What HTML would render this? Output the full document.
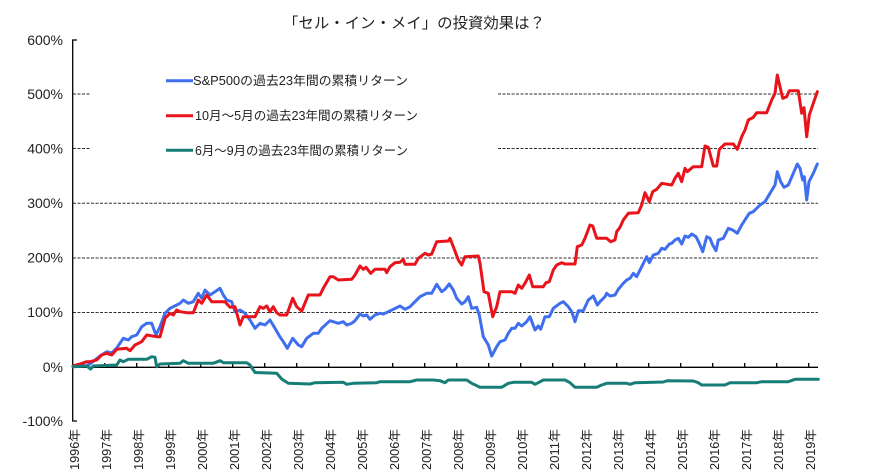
<!DOCTYPE html>
<html><head><meta charset="utf-8"><style>
html,body{margin:0;padding:0;background:#fff;}
svg{display:block;}
text{font-family:"Liberation Sans","Noto Sans CJK JP",sans-serif;fill:#222;}
</style></head><body>
<svg width="874" height="473" viewBox="0 0 874 473" xmlns="http://www.w3.org/2000/svg">
<rect width="874" height="473" fill="#fff"/>
<text x="283" y="28" font-size="15" textLength="262" lengthAdjust="spacingAndGlyphs">「セル・イン・メイ」の投資効果は？</text>

<!-- gridlines -->
<g stroke="#333" stroke-width="1" stroke-dasharray="3,1.5" fill="none">
<line x1="73" y1="94" x2="91" y2="94"/><line x1="498" y1="94" x2="818" y2="94"/>
<line x1="73" y1="148.5" x2="91" y2="148.5"/><line x1="498" y1="148.5" x2="818" y2="148.5"/>
<line x1="73" y1="203.3" x2="818" y2="203.3"/>
<line x1="73" y1="258" x2="818" y2="258"/>
<line x1="73" y1="312.5" x2="818" y2="312.5"/>
</g>

<!-- axes -->
<g stroke="#000" stroke-width="1.3" fill="none">
<polyline points="77,40 72.7,40 72.7,421 77,421"/>
<line x1="72.7" y1="367.3" x2="818" y2="367.3"/>
<path d="M104.7 363v4.3M136.7 363v4.3M168.7 363v4.3M200.7 363v4.3M232.7 363v4.3M264.7 363v4.3M296.7 363v4.3M328.7 363v4.3M360.7 363v4.3M392.7 363v4.3M424.7 363v4.3M456.7 363v4.3M488.7 363v4.3M520.7 363v4.3M552.7 363v4.3M584.7 363v4.3M616.7 363v4.3M648.7 363v4.3M680.7 363v4.3M712.7 363v4.3M744.7 363v4.3M776.7 363v4.3M808.7 363v4.3"/>
</g>

<!-- y labels -->
<g font-size="14" text-anchor="end">
<text x="63" y="45">600%</text>
<text x="63" y="99">500%</text>
<text x="63" y="153.5">400%</text>
<text x="63" y="208">300%</text>
<text x="63" y="262.5">200%</text>
<text x="63" y="317">100%</text>
<text x="63" y="372">0%</text>
<text x="63" y="426">-100%</text>
</g>

<!-- x labels -->
<g font-size="12.5" text-anchor="end">
<text transform="translate(79.2,429) rotate(-90)" textLength="41" lengthAdjust="spacingAndGlyphs">1996年</text>
<text transform="translate(111.2,429) rotate(-90)" textLength="41" lengthAdjust="spacingAndGlyphs">1997年</text>
<text transform="translate(143.2,429) rotate(-90)" textLength="41" lengthAdjust="spacingAndGlyphs">1998年</text>
<text transform="translate(175.2,429) rotate(-90)" textLength="41" lengthAdjust="spacingAndGlyphs">1999年</text>
<text transform="translate(207.2,429) rotate(-90)" textLength="41" lengthAdjust="spacingAndGlyphs">2000年</text>
<text transform="translate(239.2,429) rotate(-90)" textLength="41" lengthAdjust="spacingAndGlyphs">2001年</text>
<text transform="translate(271.2,429) rotate(-90)" textLength="41" lengthAdjust="spacingAndGlyphs">2002年</text>
<text transform="translate(303.2,429) rotate(-90)" textLength="41" lengthAdjust="spacingAndGlyphs">2003年</text>
<text transform="translate(335.2,429) rotate(-90)" textLength="41" lengthAdjust="spacingAndGlyphs">2004年</text>
<text transform="translate(367.2,429) rotate(-90)" textLength="41" lengthAdjust="spacingAndGlyphs">2005年</text>
<text transform="translate(399.2,429) rotate(-90)" textLength="41" lengthAdjust="spacingAndGlyphs">2006年</text>
<text transform="translate(431.2,429) rotate(-90)" textLength="41" lengthAdjust="spacingAndGlyphs">2007年</text>
<text transform="translate(463.2,429) rotate(-90)" textLength="41" lengthAdjust="spacingAndGlyphs">2008年</text>
<text transform="translate(495.2,429) rotate(-90)" textLength="41" lengthAdjust="spacingAndGlyphs">2009年</text>
<text transform="translate(527.2,429) rotate(-90)" textLength="41" lengthAdjust="spacingAndGlyphs">2010年</text>
<text transform="translate(559.2,429) rotate(-90)" textLength="41" lengthAdjust="spacingAndGlyphs">2011年</text>
<text transform="translate(591.2,429) rotate(-90)" textLength="41" lengthAdjust="spacingAndGlyphs">2012年</text>
<text transform="translate(623.2,429) rotate(-90)" textLength="41" lengthAdjust="spacingAndGlyphs">2013年</text>
<text transform="translate(655.2,429) rotate(-90)" textLength="41" lengthAdjust="spacingAndGlyphs">2014年</text>
<text transform="translate(687.2,429) rotate(-90)" textLength="41" lengthAdjust="spacingAndGlyphs">2015年</text>
<text transform="translate(719.2,429) rotate(-90)" textLength="41" lengthAdjust="spacingAndGlyphs">2016年</text>
<text transform="translate(751.2,429) rotate(-90)" textLength="41" lengthAdjust="spacingAndGlyphs">2017年</text>
<text transform="translate(783.2,429) rotate(-90)" textLength="41" lengthAdjust="spacingAndGlyphs">2018年</text>
<text transform="translate(815.2,429) rotate(-90)" textLength="41" lengthAdjust="spacingAndGlyphs">2019年</text>
</g>

<!-- series -->
<g fill="none" stroke-width="3" stroke-linejoin="round" stroke-linecap="round">
<polyline stroke="#3f6fee" points="73,366.7 80,365 86,366 90,364 95,360 100,356 106.7,351.7 111.7,353 116.7,348 123.3,338.3 128.3,340 131.7,336.7 136.7,335 141.7,326.7 146.7,323.3 151.7,323.3 156,335 160,326.7 165,313.3 170,308.3 176.7,305 180,303.3 183.3,300 188.3,303.3 193.3,301.7 198.3,293.3 201.7,298.3 205,290 210,295 215,291.7 220,288.3 223.3,295 226.7,300 231.7,301.7 235,311.7 240,310 245,313.3 250,320 255,328.3 260,323.3 265,325 270,320 275,328.3 280,337 283.3,341.7 287.3,348.3 292.7,338.3 298.3,345 301.7,346.7 306.7,338.3 313.3,333.3 318.3,333.3 321.7,328.3 330,320.7 338.3,323.3 343.3,321.7 346.7,325 351.7,323.3 355,320.7 360,314 363.3,316 366.7,315 370,319.3 375,315 380,313.3 383.3,314 388.3,311.7 393.3,309.3 400,306 405,309.3 410,306.7 415,301.7 420,296.7 426.7,293.3 431.7,293.3 436.7,284.3 441.7,291.7 445,289.3 449.3,284 453.3,290 456.7,298.3 461.7,304 465,301.7 468.3,296.7 471.7,308.3 476.7,307.3 479.3,315 483.3,336.7 488.3,345 491.7,356 496.7,346.7 500,341.7 505,340 508.3,333.3 511.7,328.3 515,328.3 518.3,323.3 521.7,326 526.7,321.7 530,316.7 535,330 538.3,326 540.7,329.3 545,316.7 549.3,316.7 553.3,308.3 560,303.3 563.3,301.7 568.3,306.7 571.7,311.7 575,321.7 578.3,310.7 583.3,310.7 588.3,300 593.3,296 597.3,305 600,301.7 605,296.7 606.7,293.3 610,296 615,295 618.3,289.3 623.3,283.3 626.7,280 630,278.3 633.3,273.3 636.7,276.7 641.7,266.7 646.7,256.7 649.3,262.7 653.3,255 658.3,253.3 661.7,248.3 665,249.3 669.3,244 671.7,243.3 675,240 678.3,238.3 681.7,244 685,236 688.3,237.3 691.7,234 696,236.7 699.3,243.3 702.7,251.7 706.7,236.7 710,238.3 712.7,245 716,250.7 718.3,240 723.3,238.3 728.3,228.3 732.7,230 737.3,233.3 741.7,225 746,218.3 749.3,213.3 753.3,211.7 760,205 765,201.7 770,193.3 775,185 777.3,171.7 780.7,181.7 784,187.3 788.3,185 793.3,173.3 797.3,164 800,168.3 802.7,180 804.3,176.7 806.7,200 809,181.7 813.3,173.3 817.3,164"/>
<polyline stroke="#e8131b" points="73,366 80,364 86.7,361.7 90,361.7 96.7,360 101.7,355 106.7,353.3 111.7,355 116.7,349.3 126.7,348.3 130,350.7 135,345 141.7,341.7 146.7,335 156.7,336.7 160,336.7 165,318.3 170,313.3 173.3,315 176.7,310 180,311.7 186.7,312.7 193.3,312.7 198.3,300 201.7,303.3 206.7,295 211.7,301.7 225,301.7 230,307.3 235,306.7 240,325 243.3,316.7 255,316.7 260,306.7 263.3,308.3 266.7,306 270,311.7 273.3,306.7 276.7,312.7 280,315 286.7,315 292.7,298.3 296.7,306.7 301.7,311 308.3,295 320,295 323.3,288.3 330,276.7 333.3,276.7 338.3,280 351.7,279.3 355,275 360,266 363.3,269.3 366,267.3 370.7,273.3 375,269.3 385,269.3 386.7,272.7 390,266.7 395,262.7 400,262.3 403.3,259.3 405,264.3 415,264.3 418.3,258.3 425,253.3 428.3,255 431.7,254 436.7,241.7 448.3,241 450,238.3 453.3,246.7 458.3,260 461.7,265 465,256.7 478.3,256 480,263.3 484,291.7 488.3,293.3 492.7,316.7 496.7,306.7 500,291.7 511.7,291.7 515,293.3 518.3,285 521.7,288.3 525,283.3 529.3,275 532.7,286.7 543.3,286.7 546,282.7 549.3,281.7 553.3,270 556.7,265 561.7,262.7 565,264 575,264 577.3,246.7 581.7,245 585,238.3 590,225 592.7,226 596.7,238.3 606.7,238.3 610.7,241.7 615,240 616.7,231.7 620,227.3 623.3,220 628.3,213.3 638.3,212.7 641.7,205 645,192.7 649.3,201.7 652.7,191.7 656.7,189.3 661.7,183.3 671.7,185 675,178.3 678.3,173.3 681.7,181.7 685,168.3 687.3,171.7 693.3,166.7 701.7,166.7 705,146 708.3,147.3 711.7,160 713.3,166 716.7,166 719.3,149.3 725,144 733.3,144 737.3,149.3 741.7,136.7 745,130 748.3,120 753.3,117.3 756.7,112.7 766.7,112.7 771.7,100 775,93.3 777.3,75 780,86.7 782.7,98.3 786.7,96.7 789.3,90.7 798.3,90.7 801.7,113.3 804,107.7 806.7,136.7 809.3,115 813.3,103.3 817.3,91.7"/>
<polyline stroke="#167d77" points="73,366.7 86.7,366 90.7,369 93.3,366 116.7,365 120,360 123.3,361.7 128.3,359.3 146.7,359.3 151.7,356.7 155,357.3 156.7,366.7 160,364 180,363.3 183.3,360.7 188.3,363.3 213.3,363.3 220,360.7 223.3,362.7 246.7,362.7 250,365 255,372.5 276.7,373.3 281.7,379 288.3,383.3 310,384 315,382.7 343.3,382.3 346.7,384.3 353.3,383.3 376.7,382.7 380,381.7 410,381.7 416.7,380 433.3,380 440,380.7 445,382.7 448.3,380 466.7,380 471.7,383.3 480,387.3 501.7,387.3 508.3,383.3 513.3,382.3 531.7,382.3 535,384.3 538.3,382.7 543.3,380 565,380 570,382.7 575,387.3 596.7,387.3 601.7,385 606.7,383.3 626.7,383.3 630,384.3 635,382.7 663.3,382 667.3,380.7 693.3,381 698.3,382.7 701.7,385 725,385 730,382.7 756.7,382.7 761.7,381.7 788.3,381.7 795,379.3 818.3,379.3"/>
</g>

<!-- legend -->
<g stroke-width="3">
<line x1="166" y1="80.7" x2="193" y2="80.7" stroke="#3f6fee"/>
<line x1="166" y1="115.7" x2="193" y2="115.7" stroke="#e8131b"/>
<line x1="166" y1="150.3" x2="193" y2="150.3" stroke="#167d77"/>
</g>
<g font-size="12.5">
<text x="193" y="85.2" textLength="215" lengthAdjust="spacingAndGlyphs">S&amp;P500の過去23年間の累積リターン</text>
<text x="195" y="120.2" textLength="223" lengthAdjust="spacingAndGlyphs">10月～5月の過去23年間の累積リターン</text>
<text x="195" y="154.8" textLength="213" lengthAdjust="spacingAndGlyphs">6月～9月の過去23年間の累積リターン</text>
</g>
</svg>
</body></html>
